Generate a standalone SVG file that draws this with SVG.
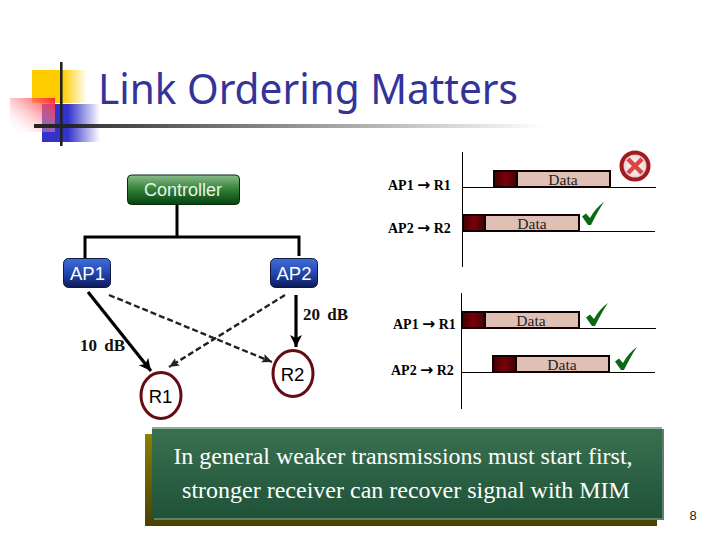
<svg xmlns="http://www.w3.org/2000/svg" width="720" height="540" viewBox="0 0 720 540">
<defs>
<linearGradient id="gy" x1="0" x2="1" y1="0" y2="0"><stop offset="0.55" stop-color="#ffcc00"/><stop offset="1" stop-color="#ffcc00" stop-opacity="0"/></linearGradient>
<linearGradient id="gb" x1="0" x2="1" y1="0" y2="0"><stop offset="0.45" stop-color="#3333cc"/><stop offset="1" stop-color="#3333cc" stop-opacity="0"/></linearGradient>
<linearGradient id="gr" x1="1" x2="0" y1="0" y2="1"><stop offset="0" stop-color="#ff2030"/><stop offset="1" stop-color="#ffffff" stop-opacity="0"/></linearGradient>
<linearGradient id="gl" x1="0" x2="1" y1="0" y2="0"><stop offset="0" stop-color="#222222"/><stop offset="1" stop-color="#222222" stop-opacity="0"/></linearGradient>
<linearGradient id="gc" x1="0" x2="0" y1="0" y2="1"><stop offset="0" stop-color="#8abb8a"/><stop offset="0.5" stop-color="#2f7f35"/><stop offset="1" stop-color="#064210"/></linearGradient>
<linearGradient id="gap" x1="0" x2="0" y1="0" y2="1"><stop offset="0" stop-color="#3f6fd8"/><stop offset="0.5" stop-color="#2348b0"/><stop offset="1" stop-color="#0c1a58"/></linearGradient>
<linearGradient id="gd" x1="0" x2="1" y1="0" y2="0"><stop offset="0" stop-color="#400008"/><stop offset="0.5" stop-color="#7a0008"/><stop offset="1" stop-color="#400008"/></linearGradient>
<linearGradient id="gbx" x1="0" x2="0" y1="0" y2="1"><stop offset="0" stop-color="#3a7050"/><stop offset="1" stop-color="#1f5238"/></linearGradient>
<linearGradient id="gol" x1="0" x2="0" y1="0" y2="1"><stop offset="0" stop-color="#8a8000"/><stop offset="1" stop-color="#4a4000"/></linearGradient>
<radialGradient id="gx"><stop offset="0" stop-color="#ffffff"/><stop offset="0.75" stop-color="#f0dcdc"/><stop offset="1" stop-color="#cc8888"/></radialGradient>
<marker id="ah" markerUnits="userSpaceOnUse" markerWidth="14" markerHeight="14" refX="12" refY="6" orient="auto"><path d="M0 0L12 6L0 12L3 6Z" fill="#000"/></marker>
<marker id="ad" markerUnits="userSpaceOnUse" markerWidth="12" markerHeight="10" refX="10" refY="4.500" orient="auto"><path d="M0 0L10 4.500L0 9L2 4.500Z" fill="#222"/></marker>
<path id="check" d="M0 14.500L4 11.500L8 16C12 9 16 4 22 0C17 7 13 15 9 23H6Z"/>
</defs>
<style>
.t{font-family:"Liberation Serif",serif}
.s{font-family:"Liberation Sans",Arial,sans-serif}
.lab{font-family:"Liberation Serif",serif;font-size:14px;font-weight:bold;fill:#000}
.arr{font-family:"DejaVu Sans",sans-serif;font-size:15.500px;font-weight:bold}
.dat{font-family:"Liberation Serif",serif;font-size:15.5px;fill:#222;text-anchor:middle}
.ax{stroke:#000;stroke-width:1;fill:none}
.bar{fill:#e0c0b4;stroke:#100000;stroke-width:2}
.hd{fill:url(#gd);stroke:#100000;stroke-width:2}
.node{fill:url(#gap);stroke:#101840;stroke-width:1}
.wht{font-family:"Liberation Sans",Arial,sans-serif;font-size:18.500px;fill:#fff;text-anchor:middle}
.rx{fill:#fff;stroke:#640c12;stroke-width:3}
.rt{font-family:"Liberation Sans",Arial,sans-serif;font-size:18.500px;fill:#000;text-anchor:middle}
.chk{fill:#0a6a14}
</style>
<g id="logo">
<rect x="32" y="70" width="55" height="33" fill="url(#gy)"/>
<rect x="42" y="104" width="58" height="38" fill="url(#gb)"/>
<rect x="10" y="98" width="45" height="34" fill="url(#gr)"/>
<rect x="60" y="62" width="2.600" height="84" fill="#222"/>
<rect x="34" y="124" width="510" height="4" fill="url(#gl)"/>
</g>
<text id="title" x="98" y="104" font-family="Noto Sans, sans-serif" font-size="42" fill="#333399" textLength="420" lengthAdjust="spacingAndGlyphs">Link Ordering Matters</text>
<g id="connectors">
<path d="M177 205V237M85 263V237H299V256" fill="none" stroke="#000" stroke-width="3"/>
<path d="M88 292L151 371" stroke="#000" stroke-width="3.200" marker-end="url(#ah)"/>
<path d="M296 295V347" stroke="#000" stroke-width="3.200" marker-end="url(#ah)"/>
<path d="M109 295L272 362" stroke="#222" stroke-width="2.400" stroke-dasharray="6 3" marker-end="url(#ad)"/>
<path d="M285 295L169 367" stroke="#222" stroke-width="2.400" stroke-dasharray="6 3" marker-end="url(#ad)"/>
</g>
<g id="controller"><rect x="127.500" y="175" width="112" height="29.500" rx="4" fill="url(#gc)" stroke="#0a2a0a"/><text class="s" x="183" y="195.500" font-size="18" fill="#e8f4e8" text-anchor="middle">Controller</text></g>
<g id="ap1"><rect x="63.500" y="258.500" width="47" height="29" rx="5" class="node"/><text class="wht" x="87.500" y="280">AP1</text></g>
<g id="ap2"><rect x="270.500" y="258.500" width="47" height="29" rx="5" class="node"/><text class="wht" x="294" y="280">AP2</text></g>
<g id="r1"><ellipse cx="161" cy="395.500" rx="20" ry="23" class="rx"/><text class="rt" x="160.500" y="403">R1</text></g>
<g id="r2"><ellipse cx="293" cy="373.500" rx="20" ry="23" class="rx"/><text class="rt" x="292.500" y="381">R2</text></g>
<text class="t" x="303" y="320" font-size="17" font-weight="bold" fill="#111" word-spacing="3">20 dB</text>
<text class="t" x="80" y="351" font-size="17" font-weight="bold" fill="#111" word-spacing="3">10 dB</text>
<g id="timing-top">
<path class="ax" d="M462.500 152V267M463 187.500H656M463 231.500H655"/>
<text class="lab" x="388" y="190">AP1 <tspan class="arr">→</tspan> R1</text>
<text class="lab" x="388" y="233">AP2 <tspan class="arr">→</tspan> R2</text>
<rect class="bar" x="494" y="171" width="116" height="16"/><rect class="hd" x="494" y="171" width="23" height="16"/>
<text class="dat" x="563" y="185">Data</text>
<rect class="bar" x="463" y="215" width="116" height="16"/><rect class="hd" x="463" y="215" width="22" height="16"/>
<text class="dat" x="532" y="229">Data</text>
<circle cx="635" cy="166" r="13.500" fill="url(#gx)" stroke="#a01a20" stroke-width="4"/>
<path d="M628 159L642 173M642 159L628 173" stroke="#d44" stroke-width="4.500"/>
<use href="#check" class="chk" x="582" y="202"/>
</g>
<g id="timing-bottom">
<path class="ax" d="M461.500 293V409M462 328.500H656M462 372.500H655"/>
<text class="lab" x="393" y="329">AP1 <tspan class="arr">→</tspan> R1</text>
<text class="lab" x="391" y="375">AP2 <tspan class="arr">→</tspan> R2</text>
<rect class="bar" x="462" y="312" width="117" height="16"/><rect class="hd" x="462" y="312" width="23" height="16"/>
<text class="dat" x="531" y="326">Data</text>
<rect class="bar" x="493" y="356" width="116" height="16"/><rect class="hd" x="493" y="356" width="23" height="16"/>
<text class="dat" x="562" y="370">Data</text>
<use href="#check" class="chk" x="586" y="303"/>
<use href="#check" class="chk" x="615" y="347"/>
</g>
<g id="callout">
<rect x="145" y="434" width="512" height="92" fill="url(#gol)"/>
<rect x="154" y="429" width="510" height="91" fill="#5e7f70"/>
<rect x="152" y="427" width="510" height="91" fill="#8ab09a"/>
<rect x="152" y="429" width="510" height="89" fill="url(#gbx)"/>
<text class="t" x="403" y="464" font-size="24" fill="#fff" text-anchor="middle">In general weaker transmissions must start first,</text>
<text class="t" x="406" y="498" font-size="24" fill="#fff" text-anchor="middle">stronger receiver can recover signal with MIM</text>
</g>
<text id="page" class="s" x="693" y="520" font-size="13" fill="#222" text-anchor="middle">8</text>
</svg>
